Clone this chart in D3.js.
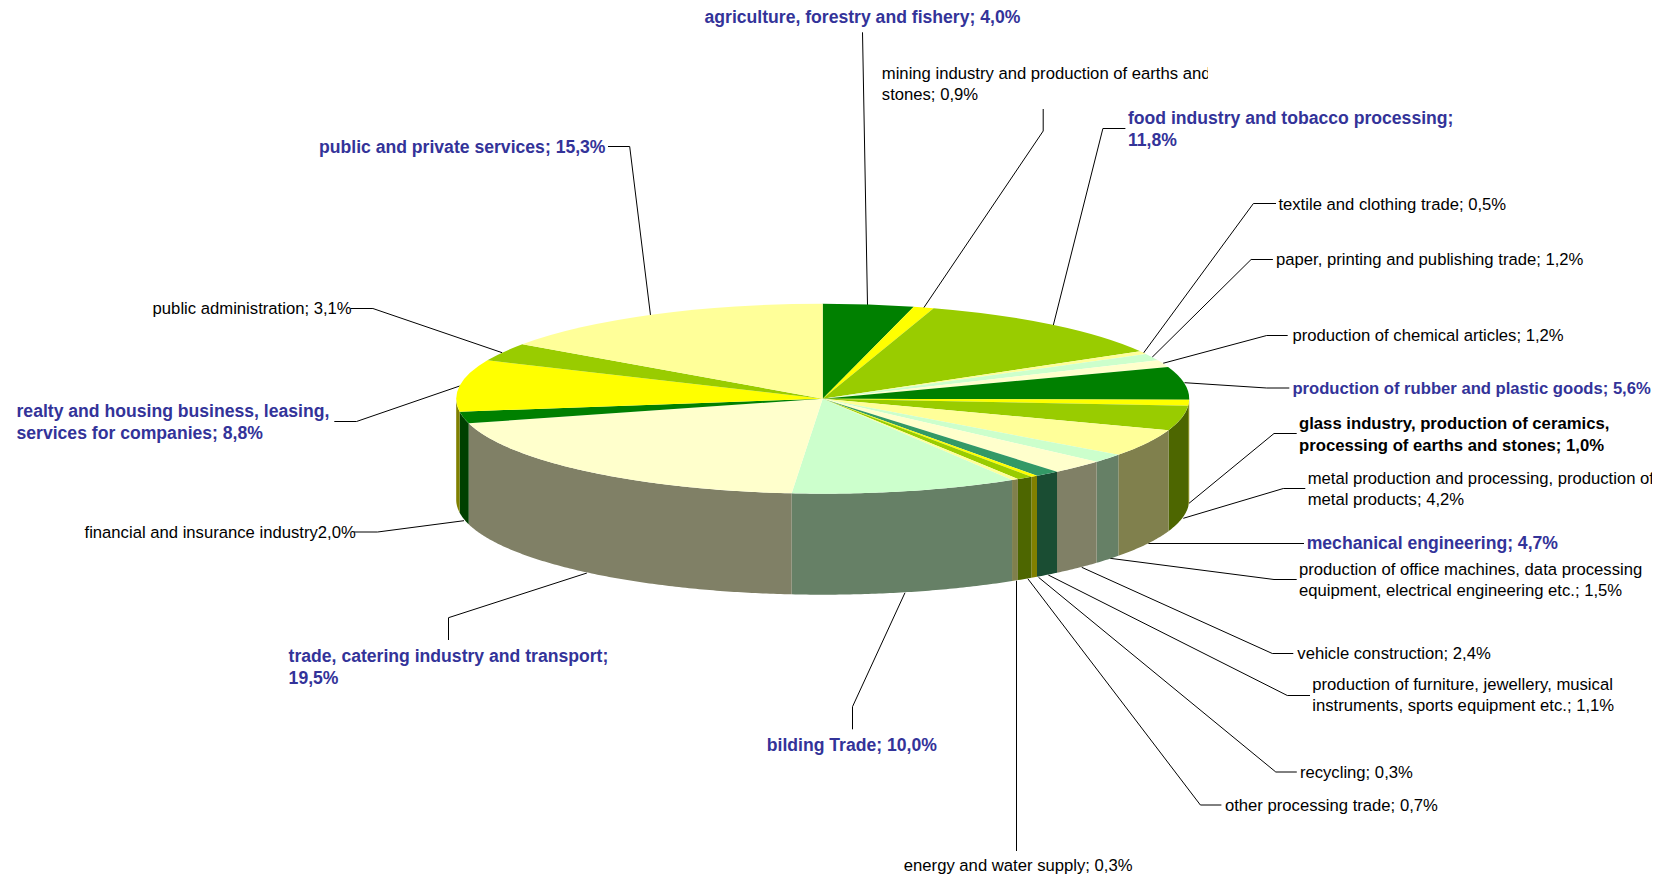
<!DOCTYPE html>
<html>
<head>
<meta charset="utf-8">
<style>
html,body{margin:0;padding:0;background:#fff;overflow:hidden}
svg{display:block}
text{font-family:"Liberation Sans",Arial,sans-serif}
</style>
<script src="https://cdn.jsdelivr.net/npm/d3@7/dist/d3.min.js"></script>
</head>
<body>
<svg id="chart" width="1661" height="879"></svg>
<script>
// ---- data ----
const categories = [
  "agriculture, forestry and fishery","mining industry and production of earths and stones",
  "food industry and tobacco processing","textile and clothing trade",
  "paper, printing and publishing trade","production of chemical articles",
  "production of rubber and plastic goods","glass industry, production of ceramics, processing of earths and stones",
  "metal production and processing, production of metal products","mechanical engineering",
  "production of office machines, data processing equipment, electrical engineering etc.","vehicle construction",
  "production of furniture, jewellery, musical instruments, sports equipment etc.","recycling",
  "other processing trade","energy and water supply","bilding Trade",
  "trade, catering industry and transport","financial and insurance industry",
  "realty and housing business, leasing, services for companies","public administration","public and private services"
];
const values = [4.0,0.9,11.8,0.5,1.2,1.2,5.6,1.0,4.2,4.7,1.5,2.4,1.1,0.3,0.7,0.3,10.0,19.5,2.0,8.8,3.1,15.3];
const labelLines = [
  ["agriculture, forestry and fishery; 4,0%"],
  ["mining industry and production of earths and","stones; 0,9%"],
  ["food industry and tobacco processing;","11,8%"],
  ["textile and clothing trade; 0,5%"],
  ["paper, printing and publishing trade; 1,2%"],
  ["production of chemical articles; 1,2%"],
  ["production of rubber and plastic goods; 5,6%"],
  ["glass industry, production of ceramics,","processing of earths and stones; 1,0%"],
  ["metal production and processing, production of","metal products; 4,2%"],
  ["mechanical engineering; 4,7%"],
  ["production of office machines, data processing","equipment, electrical engineering etc.; 1,5%"],
  ["vehicle construction; 2,4%"],
  ["production of furniture, jewellery, musical","instruments, sports equipment etc.; 1,1%"],
  ["recycling; 0,3%"],
  ["other processing trade; 0,7%"],
  ["energy and water supply; 0,3%"],
  ["bilding Trade; 10,0%"],
  ["trade, catering industry and transport;","19,5%"],
  ["financial and insurance industry2,0%"],
  ["realty and housing business, leasing,","services for companies; 8,8%"],
  ["public administration; 3,1%"],
  ["public and private services; 15,3%"]
];
const labelStyle = ["blue","plain","blue","plain","plain","plain","blueSmall","black","plain","blue","plain","plain","plain","plain","plain","plain","blue","blue","plain","blue","plain","blue"];

// ---- palette ----
const topColors = ["#008000","#FFFF00","#99CC00","#FFFF99","#CCFFCC","#FFFFCC","#008000","#FFFF00","#99CC00","#FFFF99","#CCFFCC","#FFFFCC","#339966","#FFFF00","#99CC00","#FFFF99","#CCFFCC","#FFFFCC","#008000","#FFFF00","#99CC00","#FFFF99"];
const sideColors = ["#004000","#808000","#4D6600","#80804D","#668066","#808066","#004000","#808000","#4D6600","#80804D","#668066","#808066","#1A4D33","#808000","#4D6600","#80804D","#668066","#808066","#004000","#808000","#4D6600","#80804D"];

// ---- layout ----
const pieBox = {cx:822.7, cy:398.7, rx:366.5, ry:95, depth:101};
const textStyles = {
  blue:{fill:"#333399",weight:"bold",size:17.6,gap:22.3},
  blueSmall:{fill:"#333399",weight:"bold",size:16.64,gap:22.3},
  black:{fill:"#000",weight:"bold",size:16.7,gap:22.3},
  plain:{fill:"#000",weight:"normal",size:16.67,gap:21.2}
};
// label anchor: left x, first-line centre y, optional clip right edge
const labelPos = [
  [704.5,17.3],[881.8,73.3,1208],[1127.9,118],[1278.4,204.3],[1276,259.5],[1292.4,335.7],[1292.4,388.7],
  [1299,423.3],[1307.7,478.7,1652],[1306.7,543.3],[1299,569.7],[1297.3,653.3],[1312.3,684.7],
  [1299.9,772.7],[1224.9,805.7],[903.8,865.7],[766.8,745],[288.6,656],[84.5,532.3],[16.5,411],[152.6,308.3],[319,147.3]
];
// leader polylines, from the label to the pie
const leaders = [
  [[862.5,32.3],[867.5,305]],
  [[1043.2,109],[1043.2,131],[923.6,308]],
  [[1125.4,128.5],[1102.9,128.5],[1053.2,325.7]],
  [[1276,203.5],[1253.4,203.5],[1143.5,353]],
  [[1272.9,259.5],[1251.1,259.5],[1152.1,357.3]],
  [[1287.7,335.5],[1266.7,335.5],[1163,363.3]],
  [[1289.3,388],[1266.7,388],[1184.5,382.7]],
  [[1296.7,433.5],[1274,433.5],[1189,503.3]],
  [[1305.3,488.5],[1283.3,488.5],[1183.3,518.3]],
  [[1304,543.5],[1148.3,543.5]],
  [[1296.7,579.5],[1274,579.5],[1110,558.3]],
  [[1293.3,653.5],[1272.3,653.5],[1081.7,567.3]],
  [[1310,695.5],[1287.3,695.5],[1048.3,575]],
  [[1296.8,772],[1275.8,772],[1038.5,577.3]],
  [[1221.4,805],[1200.4,805],[1027.8,578.7]],
  [[1016.5,851],[1016.5,580.7]],
  [[852.5,729.3],[852.5,706.7],[905,592.7]],
  [[448.5,640],[448.5,617.7],[586.9,573]],
  [[353.9,532],[377.6,532],[464,520.7]],
  [[334.3,421.5],[356.5,421.5],[459.7,386]],
  [[350.4,308.5],[372.9,308.5],[502.2,352.7]],
  [[608,146.5],[629.7,146.5],[650.5,315.3]]
];

const svg = d3.select("#chart");
const slices = d3.pie().sort(null).startAngle(0).endAngle(2*Math.PI)(values);

// angle (clockwise from 12 o'clock) to screen position
const sx = d3.scaleLinear().domain([-1,1]).range([pieBox.cx-pieBox.rx, pieBox.cx+pieBox.rx]);
const sy = d3.scaleLinear().domain([-1,1]).range([pieBox.cy-pieBox.ry, pieBox.cy+pieBox.ry]);

// --- leaders go below the pie ---
const leaderLine = d3.line();
svg.append("g").selectAll("path").data(leaders).join("path")
  .attr("d", d => leaderLine(d))
  .attr("fill","none").attr("stroke","#000").attr("stroke-width",1);

// --- side wall: the front half of the cylinder ---
const FRONT0 = Math.PI/2, FRONT1 = 3*Math.PI/2;
function wall(a0,a1){
  const s0 = Math.max(a0,FRONT0), s1 = Math.min(a1,FRONT1);
  if (s1 <= s0) return null;
  const n = Math.max(2, Math.ceil((s1-s0)/0.01));
  const angles = d3.range(n+1).map(i => s0 + (s1-s0)*i/n);
  const upper = angles.map(a => [sx(Math.sin(a)), sy(-Math.cos(a))]);
  const lower = angles.slice().reverse().map(a => [sx(Math.sin(a)), sy(-Math.cos(a))+pieBox.depth]);
  return d3.line()(upper.concat(lower))+"Z";
}
svg.append("g").selectAll("path").data(slices).join("path")
  .attr("d", d => wall(d.startAngle,d.endAngle))
  .attr("fill", d => sideColors[d.index]);

// --- top surface ---
const arc = d3.arc().innerRadius(0).outerRadius(pieBox.rx);
svg.append("g")
  .attr("transform",`translate(${pieBox.cx},${pieBox.cy}) scale(1,${pieBox.ry/pieBox.rx})`)
  .selectAll("path").data(slices).join("path")
  .attr("d", arc)
  .attr("fill", d => topColors[d.index]);

// --- labels ---
const defs = svg.append("defs");
labelPos.forEach((p,i) => {
  if (p[2]) defs.append("clipPath").attr("id","clip"+i).append("rect")
    .attr("x",p[0]-2).attr("y",p[1]-14).attr("width",p[2]-p[0]+2).attr("height",60);
});
const lab = svg.append("g").selectAll("g").data(labelLines).join("g")
  .attr("clip-path",(d,i)=>labelPos[i][2]?`url(#clip${i})`:null);
lab.each(function(lines,i){
  const g = d3.select(this), st = textStyles[labelStyle[i]];
  lines.forEach((t,k)=>{
    g.append("text")
      .attr("x",labelPos[i][0])
      .attr("y",labelPos[i][1]+k*st.gap+5.5)
      .attr("fill",st.fill)
      .attr("font-weight",st.weight)
      .attr("font-size",st.size)
      .text(t);
  });
});
</script>
</body>
</html>
